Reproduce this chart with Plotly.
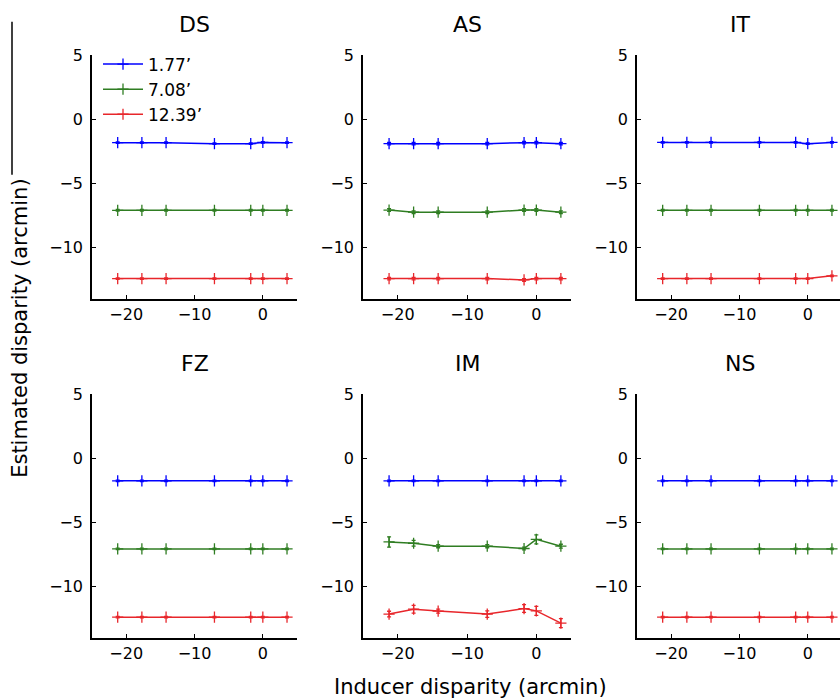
import plotly.graph_objects as go
from plotly.subplots import make_subplots

# Inducer disparities (arcmin) shared by every panel
inducer = [-21.24, -17.70, -14.16, -7.08, -1.77, 0.00, 3.54]

# Test disparity levels (legend labels)
levels = ["1.77\u2019", "7.08\u2019", "12.39\u2019"]
colors = ["#0000ff", "#2f7d22", "#e8262b"]

panels = ["DS", "AS", "IT", "FZ", "IM", "NS"]

# Mean estimated disparity per panel, one list per test level
ds_177 = [-1.80, -1.80, -1.80, -1.88, -1.88, -1.78, -1.80]
ds_708 = [-7.07, -7.07, -7.07, -7.07, -7.07, -7.07, -7.07]
ds_1239 = [-12.39, -12.39, -12.39, -12.39, -12.39, -12.39, -12.39]

as_177 = [-1.88, -1.88, -1.88, -1.88, -1.80, -1.80, -1.88]
as_708 = [-7.05, -7.22, -7.22, -7.22, -7.05, -7.05, -7.22]
as_1239 = [-12.39, -12.39, -12.39, -12.39, -12.50, -12.39, -12.39]

it_177 = [-1.78, -1.78, -1.78, -1.78, -1.78, -1.88, -1.78]
it_708 = [-7.07, -7.07, -7.07, -7.07, -7.07, -7.07, -7.07]
it_1239 = [-12.39, -12.39, -12.39, -12.39, -12.39, -12.39, -12.18]

fz_177 = [-1.77, -1.77, -1.77, -1.77, -1.77, -1.77, -1.77]
fz_708 = [-7.07, -7.07, -7.07, -7.07, -7.07, -7.07, -7.07]
fz_1239 = [-12.39, -12.39, -12.39, -12.39, -12.39, -12.39, -12.39]

im_177 = [-1.77, -1.77, -1.77, -1.77, -1.77, -1.77, -1.77]
im_708 = [-6.53, -6.63, -6.86, -6.86, -7.04, -6.33, -6.86]
im_1239 = [-12.15, -11.77, -11.92, -12.15, -11.72, -11.90, -12.86]

ns_177 = [-1.77, -1.77, -1.77, -1.77, -1.77, -1.77, -1.77]
ns_708 = [-7.07, -7.07, -7.07, -7.07, -7.07, -7.07, -7.07]
ns_1239 = [-12.39, -12.39, -12.39, -12.39, -12.39, -12.39, -12.39]

# Standard errors
err_small = [0.06, 0.06, 0.06, 0.06, 0.06, 0.06, 0.06]
err_as = [0.10, 0.10, 0.10, 0.10, 0.10, 0.10, 0.10]
im_708_err = [0.40, 0.22, 0.12, 0.12, 0.10, 0.35, 0.15]
im_1239_err = [0.22, 0.30, 0.15, 0.25, 0.30, 0.35, 0.35]

panel_means = [
    [ds_177, ds_708, ds_1239],
    [as_177, as_708, as_1239],
    [it_177, it_708, it_1239],
    [fz_177, fz_708, fz_1239],
    [im_177, im_708, im_1239],
    [ns_177, ns_708, ns_1239],
]
panel_errs = [
    [err_small, err_small, err_small],
    [err_as, err_as, err_as],
    [err_small, err_small, err_small],
    [err_small, err_small, err_small],
    [err_small, im_708_err, im_1239_err],
    [err_small, err_small, err_small],
]

W, H = 840, 700
FONT = "DejaVu Sans, Liberation Sans, Arial, sans-serif"

fig = make_subplots(rows=2, cols=3)

for p in range(6):
    r, c = p // 3 + 1, p % 3 + 1
    for k in range(3):
        fig.add_trace(
            go.Scatter(
                x=inducer,
                y=panel_means[p][k],
                mode="lines+markers",
                name=levels[k],
                showlegend=(p == 0),
                line=dict(color=colors[k], width=1.5),
                marker=dict(symbol="cross-thin", size=8,
                            line=dict(color=colors[k], width=1.3)),
                error_y=dict(type="data", array=panel_errs[p][k],
                             color=colors[k], thickness=1.3, width=2),
            ),
            row=r, col=c,
        )

# pixel layout of the axes boxes
col_px = [(92, 297, [-25, 5]), (363, 571, [-25, 5]), (637, 840, [-25, 4.72])]
row_px = [(47, 294), (390, 637)]

axis_common = dict(
    showgrid=False, zeroline=False, showline=True, linecolor="black",
    linewidth=1.5, ticks="inside", ticklen=4, tickcolor="black",
    tickwidth=1, mirror=False,
    tickfont=dict(family=FONT, size=16, color="black"),
)

for p in range(6):
    ri, ci = p // 3, p % 3
    x0, x1, xr = col_px[ci]
    y0, y1 = row_px[ri]
    n = "" if p == 0 else str(p + 1)
    fig.layout["xaxis" + n].update(
        domain=[x0 / W, x1 / W], range=xr,
        tickvals=[-20, -10, 0], **axis_common)
    fig.layout["yaxis" + n].update(
        domain=[1 - y1 / H, 1 - y0 / H], range=[-14, 5],
        tickvals=[-10, -5, 0, 5], ticklabelstandoff=4, **axis_common)
    # panel title, centred over the full axis span
    cx = (x0 + x1) / 2 if ci < 2 else (637 + 842) / 2
    fig.add_annotation(
        text=panels[p], xref="paper", yref="paper",
        x=cx / W, y=1 - y0 / H, yshift=16, yanchor="bottom",
        xanchor="center", showarrow=False,
        font=dict(family=FONT, size=22, color="black"),
    )

fig.add_annotation(
    text="Inducer disparity (arcmin)", xref="paper", yref="paper",
    x=470 / W, y=1 - 687 / H, xanchor="center", yanchor="middle",
    showarrow=False, font=dict(family=FONT, size=21, color="black"),
)
fig.add_annotation(
    text="Estimated disparity (arcmin)", xref="paper", yref="paper",
    x=20 / W, y=1 - 324 / H, xanchor="center", yanchor="middle",
    textangle=-90, showarrow=False,
    font=dict(family=FONT, size=21, color="black"),
)

# thin border stub at the top-left edge
fig.add_shape(type="line", xref="paper", yref="paper",
              x0=12 / W, x1=12 / W, y0=1 - 13 / H, y1=1 - 168 / H,
              line=dict(color="black", width=1.5))

fig.update_layout(
    width=W, height=H,
    margin=dict(l=0, r=0, t=0, b=0),
    paper_bgcolor="white", plot_bgcolor="white",
    font=dict(family=FONT, color="black"),
    legend=dict(
        x=98 / W, y=1 - 38 / H, xanchor="left", yanchor="top",
        bgcolor="rgba(0,0,0,0)", borderwidth=0,
        font=dict(family=FONT, size=17, color="black"),
        tracegroupgap=0, itemwidth=40,
    ),
)

fig.write_html("out.html")
